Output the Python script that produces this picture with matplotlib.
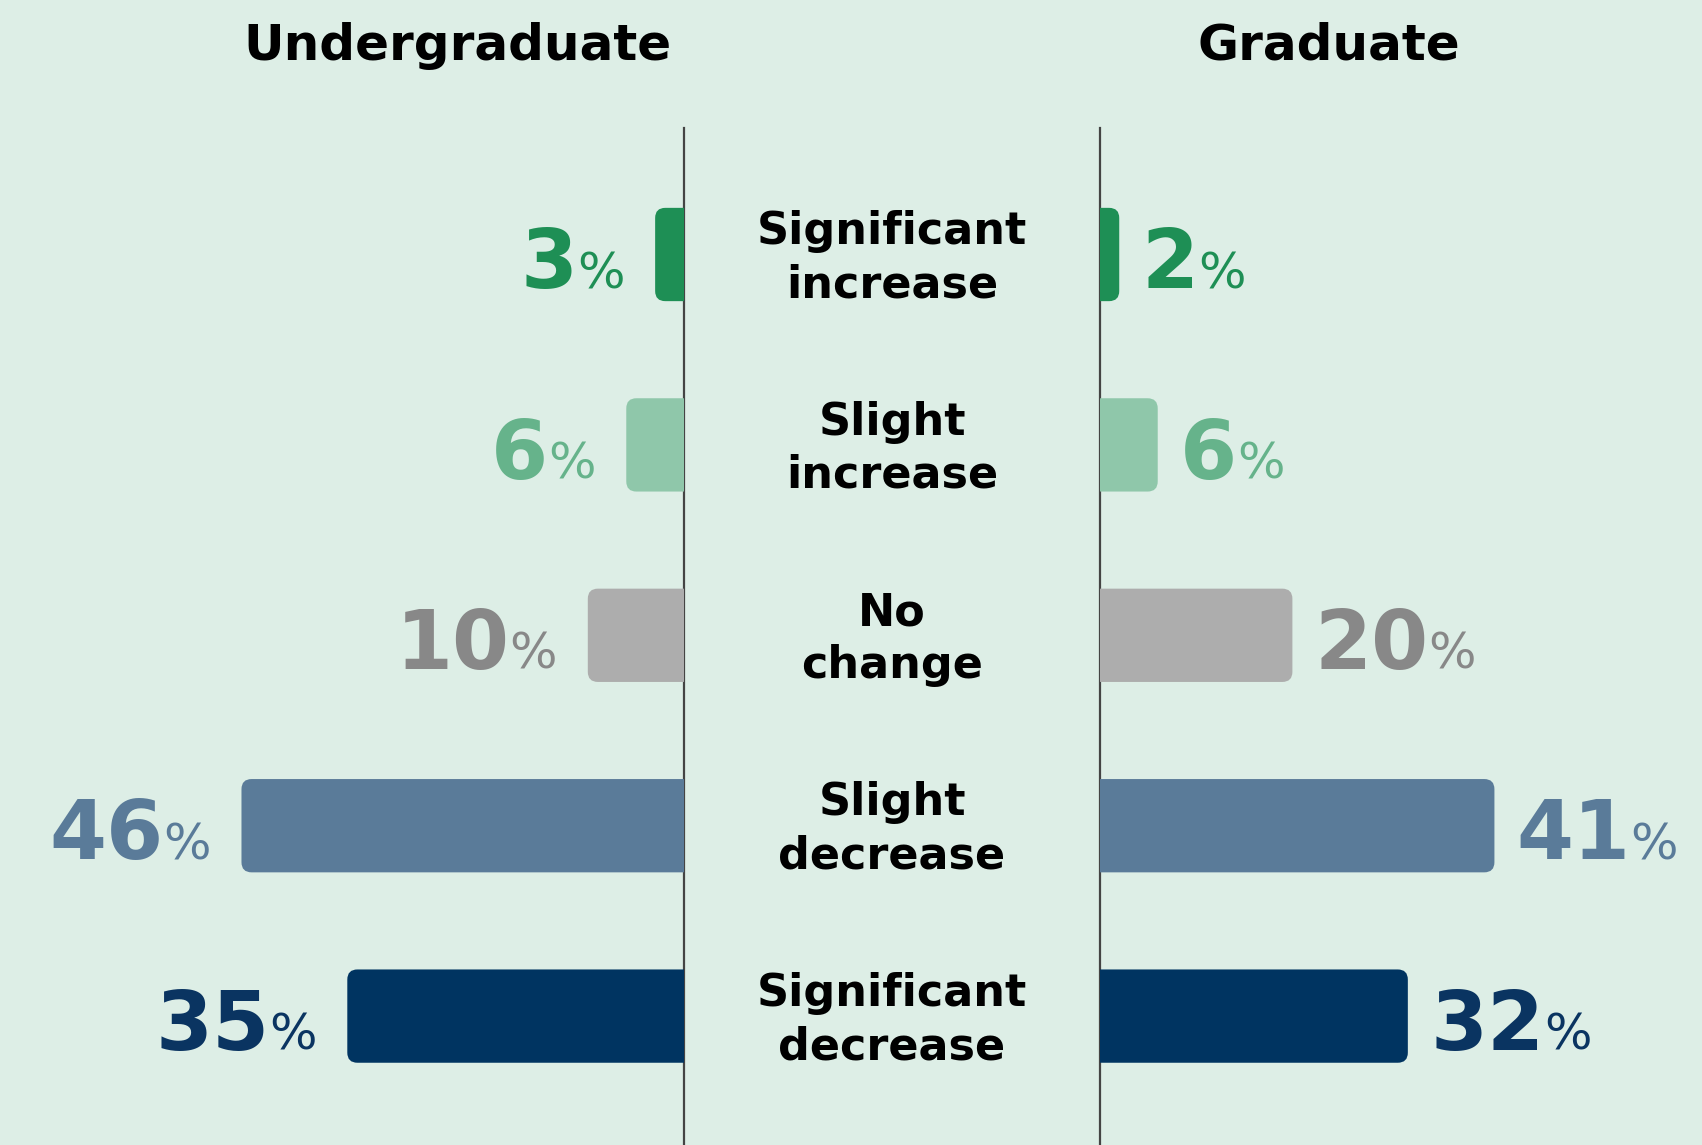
import matplotlib
matplotlib.use('Agg')
import matplotlib.pyplot as plt
from matplotlib.patches import FancyBboxPatch
from matplotlib.offsetbox import TextArea, HPacker, AnnotationBbox
from matplotlib.transforms import blended_transform_factory

# data
categories = ['Significant\nincrease', 'Slight\nincrease', 'No\nchange',
              'Slight\ndecrease', 'Significant\ndecrease']
undergrad = [3, 6, 10, 46, 35]
graduate = [2, 6, 20, 41, 32]
bar_colors = ['#1E8F55', '#8FC7AA', '#ADADAD', '#5A7B99', '#003461']
text_colors = ['#1E8F55', '#66B38B', '#888888', '#5A7B99', '#0A3461']

bg = '#DDEEE6'
font = 'DejaVu Sans'
W, H = 1702, 1145
px_per_pct = 9.62
row_px = 190.4
top_px = 254.5

fig = plt.figure(figsize=(W / 100, H / 100), dpi=100, facecolor=bg)

left_w = 684
right_x = 1100
ax_l = fig.add_axes([0, 0, left_w / W, 1])
ax_r = fig.add_axes([right_x / W, 0, (W - right_x) / W, 1])

ylim = ((H - top_px) / row_px, -top_px / row_px)
ax_l.set_xlim(left_w / px_per_pct, 0)
ax_r.set_xlim(0, (W - right_x) / px_per_pct)

for ax in (ax_l, ax_r):
    ax.set_ylim(*ylim)
    ax.set_facecolor(bg)
    ax.axis('off')

line_top = 1 - 128 / H
ax_l.axvline(0, ymin=0, ymax=line_top, color='#444444', lw=1.6, clip_on=False)
ax_r.axvline(0, ymin=0, ymax=line_top, color='#444444', lw=1.6, clip_on=False)

bar_h = 0.49
asp = (1 / row_px) / (1 / px_per_pct)


def draw_side(ax, values, direction):
    for i, v in enumerate(values):
        p = FancyBboxPatch((-3, i - bar_h / 2), v + 3, bar_h,
                           boxstyle='round,pad=0,rounding_size=1.05',
                           mutation_aspect=asp, facecolor=bar_colors[i],
                           edgecolor='none', zorder=2)
        ax.add_patch(p)
        num = TextArea(str(v), textprops=dict(fontsize=59, color=text_colors[i],
                                              fontweight='bold', family=font))
        pct = TextArea('%', textprops=dict(fontsize=36, color=text_colors[i],
                                           fontweight='normal', family=font))
        box = HPacker(children=[num, pct], align='baseline', pad=0, sep=0)
        if direction == 'left':
            ab = AnnotationBbox(box, (v, i), xybox=(-22, -8), xycoords='data',
                                boxcoords='offset points', box_alignment=(1, 0.5),
                                frameon=False, annotation_clip=False)
        else:
            ab = AnnotationBbox(box, (v, i), xybox=(16, -8), xycoords='data',
                                boxcoords='offset points', box_alignment=(0, 0.5),
                                frameon=False, annotation_clip=False)
        ax.add_artist(ab)


draw_side(ax_l, undergrad, 'left')
draw_side(ax_r, graduate, 'right')

# category labels in the middle
trans = blended_transform_factory(fig.transFigure, ax_l.transData)
for i, c in enumerate(categories):
    ax_l.text(892 / W, i + 0.02, c, transform=trans, ha='center', va='center',
              fontsize=32, fontweight='bold', family=font, color='black',
              linespacing=1.3, clip_on=False)

fig.text(457 / W, 1 - 46 / H, 'Undergraduate', ha='center', va='center',
         fontsize=36, fontweight='bold', family=font, color='black')
fig.text(1329 / W, 1 - 46 / H, 'Graduate', ha='center', va='center',
         fontsize=36, fontweight='bold', family=font, color='black')

fig.savefig('out.png', dpi=100, facecolor=bg)
